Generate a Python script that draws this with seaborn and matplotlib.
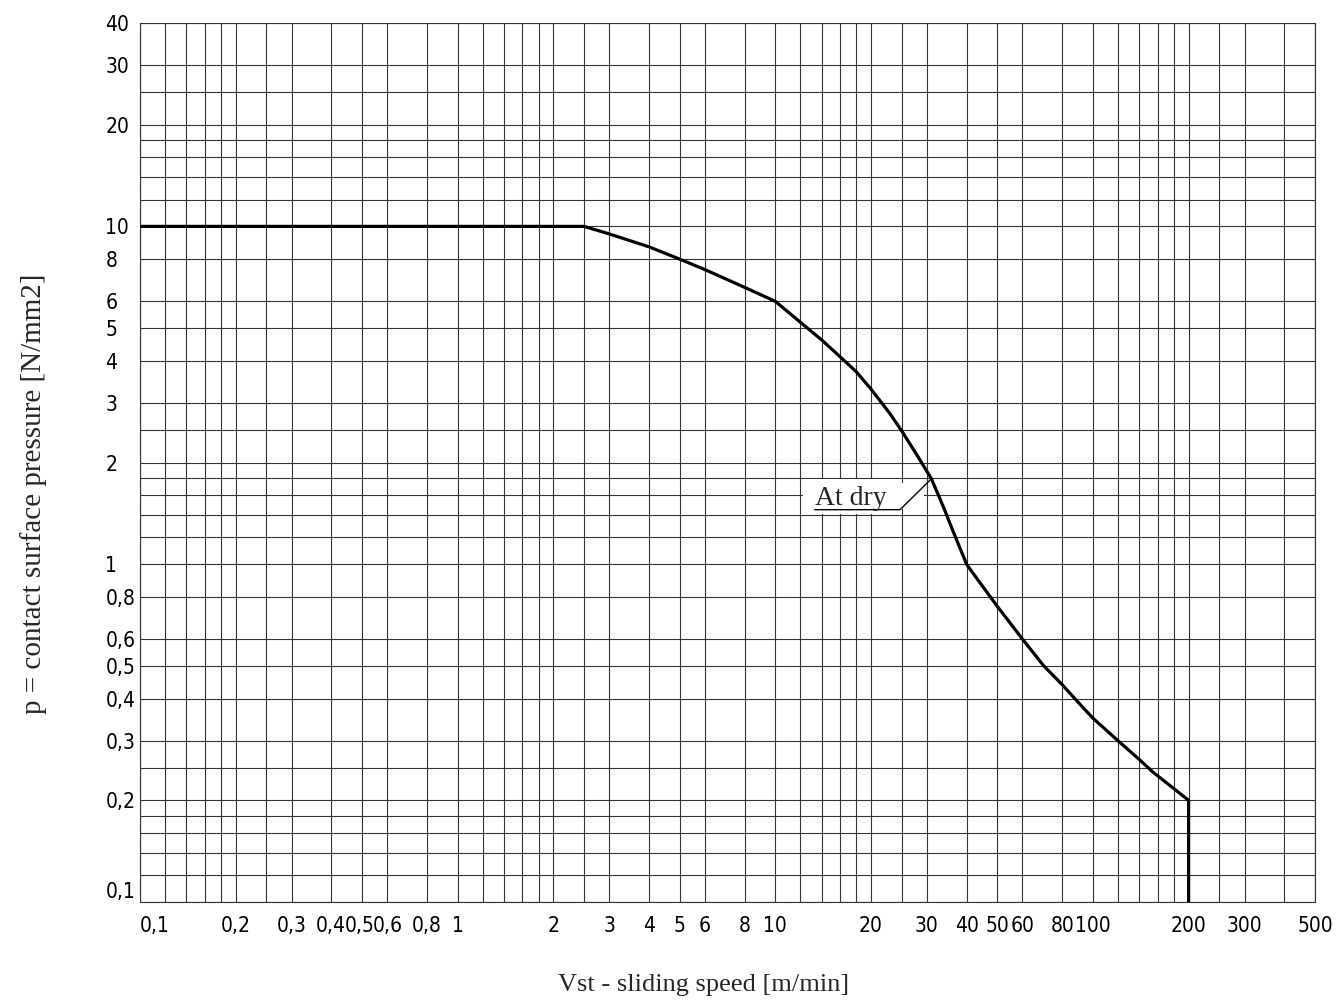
import seaborn as sns
import matplotlib.pyplot as plt
import pandas as pd
from matplotlib.patches import Rectangle
from matplotlib.transforms import ScaledTranslation

# curve (sliding speed in m/min, pressure in N/mm2)
speed = [0.1, 2.5, 3, 4, 5, 6, 8, 10, 12, 14, 16, 18, 20, 22.9, 25, 27.7, 31,
         33.8, 36.3, 40, 43, 50, 60, 70, 80, 91, 100, 120, 140, 154, 200, 200]
pressure = [10, 10, 9.5, 8.7, 8.0, 7.45, 6.6, 6.0, 5.2, 4.61, 4.11, 3.71, 3.3, 2.8,
            2.48, 2.13, 1.79, 1.48, 1.25, 1.0, 0.91, 0.75, 0.6, 0.5, 0.44, 0.385,
            0.35, 0.3, 0.264, 0.243, 0.2, 0.1]

# tick labels
xtick_vals = [0.1, 0.2, 0.3, 0.4, 0.5, 0.6, 0.8, 1, 2, 3, 4, 5, 6, 8, 10,
              20, 30, 40, 50, 60, 80, 100, 200, 300, 500]
xtick_text = ['0,1', '0,2', '0,3', '0,4', '0,5', '0,6', '0,8', '1', '2', '3', '4',
              '5', '6', '8', '10', '20', '30', '40', '50', '60', '80', '100',
              '200', '300', '500']
ytick_vals = [0.1, 0.2, 0.3, 0.4, 0.5, 0.6, 0.8, 1, 2, 3, 4, 5, 6, 8, 10, 20, 30, 40]
ytick_text = ['0,1', '0,2', '0,3', '0,4', '0,5', '0,6', '0,8', '1', '2', '3', '4',
              '5', '6', '8', '10', '20', '30', '40']

# grid lines of the log paper
mantissa = [1, 1.2, 1.4, 1.6, 1.8, 2, 2.5, 3, 4, 5, 6, 8]
decades = [0.1, 1, 10, 100]
grid_x = [m * d for d in decades for m in mantissa if m * d <= 500] + [500]
grid_y = [m * d for d in decades for m in mantissa if m * d <= 40]

# "At dry" leader line
label_x = [13.3, 24.7, 31]
label_y = [1.45, 1.45, 1.79]

sns.set_style('white')
plt.rcParams['font.family'] = ['DejaVu Sans']

df = pd.DataFrame({'speed': speed, 'pressure': pressure})

fig = plt.figure(figsize=(13.37, 10.07), dpi=100)
ax = fig.add_axes([140 / 1337, 1 - 902 / 1007, 1175 / 1337, 879 / 1007])
ax.set_xscale('log')
ax.set_yscale('log')
ax.set_xlim(0.1, 500)
ax.set_ylim(0.1, 40)

gridcol = '#333333'
for gx in grid_x:
    ax.axvline(gx, color=gridcol, lw=0.8, zorder=1)
for gy in grid_y:
    ax.axhline(gy, color=gridcol, lw=0.8, zorder=1)
for s in ax.spines.values():
    s.set_color(gridcol)
    s.set_linewidth(0.8)

sns.lineplot(data=df, x='speed', y='pressure', sort=False, estimator=None,
             color='black', lw=2.3, ax=ax, zorder=4)

ax.minorticks_off()
ax.set_xticks(xtick_vals)
ax.set_xticklabels(xtick_text)
ax.set_yticks(ytick_vals)
ax.set_yticklabels(ytick_text)
ax.tick_params(axis='both', length=0, labelsize=15, colors='black')
ax.tick_params(axis='x', pad=10)
ax.tick_params(axis='y', pad=25)
for lab in ax.get_xticklabels() + ax.get_yticklabels():
    lab.set_fontstretch('condensed')
for lab in ax.get_yticklabels():
    lab.set_ha('left')
ax.get_yticklabels()[0].set_va('bottom')
xl = ax.get_xticklabels()
xl[0].set_ha('left')
xl[4].set_transform(xl[4].get_transform() + ScaledTranslation(-0.02, 0, fig.dpi_scale_trans))
xl[5].set_transform(xl[5].get_transform() + ScaledTranslation(0.01, 0, fig.dpi_scale_trans))
ax.set_xlabel('')
ax.set_ylabel('')

# white area behind the label
ax.add_patch(Rectangle((12.2, 1.41), 24.8 - 12.2, 1.79 - 1.41, facecolor='white',
                       edgecolor='none', zorder=2))
ax.add_patch(Rectangle((24.8, 1.46), 29.4 - 24.8, 1.74 - 1.46, facecolor='white',
                       edgecolor='none', zorder=2))
ax.plot(label_x, label_y, color='black', lw=1.0, zorder=3)
ax.text(13.35, 1.5, 'At dry', fontsize=20, family='Liberation Serif',
        ha='left', va='baseline', zorder=3)

fig.text(704 / 1337, 1 - 985 / 1007, 'Vst - sliding speed [m/min]', fontsize=19,
         family='Liberation Serif', ha='center', va='center')
fig.text(34 / 1337, 1 - 494 / 1007, 'p = contact surface pressure [N/mm2]', fontsize=21,
         family='Liberation Serif', rotation=90, ha='center', va='center')

fig.savefig('out.png', dpi=100, facecolor='white')
